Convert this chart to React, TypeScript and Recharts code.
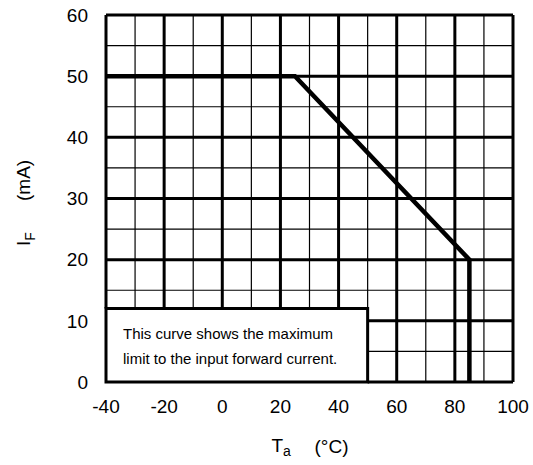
import React from 'react';
import { Label, Line, LineChart, ReferenceArea, ReferenceLine, XAxis, YAxis } from 'recharts';

// Derating curve: forward current vs ambient temperature
const curveTemp = [-40, 25, 85, 85];
const curveCurrent = [50, 50, 20, 0];

const xTicks = [-40, -20, 0, 20, 40, 60, 80, 100];
const yTicks = [0, 10, 20, 30, 40, 50, 60];
const xMinor = [-30, -10, 10, 30, 50, 70, 90];
const yMinor = [5, 15, 25, 35, 45, 55];

// note box extent (data units)
const noteX = [-40, 50];
const noteY = [0, 12];
const noteLines = ['This curve shows the maximum', 'limit to the input forward current.'];

const data = curveTemp.map((t, i) => ({ t, i: curveCurrent[i] }));

const FONT = '"Liberation Sans", Arial, sans-serif';
const tickStyle = { fill: '#000', fontSize: 19, fontFamily: FONT };

// grid lines stop at the note box instead of running through it
const vSegment = (v: number) =>
  v <= noteX[1]
    ? [{ x: v, y: noteY[1] }, { x: v, y: 60 }]
    : [{ x: v, y: 0 }, { x: v, y: 60 }];
const hSegment = (v: number) =>
  v <= noteY[1]
    ? [{ x: noteX[1], y: v }, { x: 100, y: v }]
    : [{ x: -40, y: v }, { x: 100, y: v }];

const NoteText = (props: any) => {
  const { x, y } = props.viewBox;
  return (
    <g>
      {noteLines.map((line, k) => (
        <text key={k} x={x + 17} y={y + 30 + k * 25} fontSize={15} fontFamily={FONT} fill="#000">
          {line}
        </text>
      ))}
    </g>
  );
};

const XTitle = (props: any) => {
  const { x, y, width } = props.viewBox;
  const cx = x + width / 2;
  return (
    <g fontFamily={FONT} fill="#000" fontSize={19}>
      <text x={cx - 38} y={y + 70}>
        T<tspan fontSize={14} dy={4}>a</tspan>
      </text>
      <text x={cx + 5} y={y + 71}>(°C)</text>
    </g>
  );
};

const YTitle = () => {
  const bx = 30;
  return (
    <g fontFamily={FONT} fill="#000" fontSize={19}>
      <text x={bx} y={246} transform={`rotate(-90, ${bx}, 246)`}>
        I<tspan fontSize={14} dy={5}>F</tspan>
      </text>
      <text x={bx} y={201} transform={`rotate(-90, ${bx}, 201)`}>(mA)</text>
    </g>
  );
};

export default function App() {
  return (
    <div style={{ position: 'absolute', left: 0, top: 0, width: 533, height: 465, background: '#fff' }}>
      <LineChart
        width={533}
        height={465}
        data={data}
        margin={{ top: 15, right: 20, bottom: 0, left: 0 }}
        style={{ overflow: 'visible' }}
      >
        <XAxis
          type="number"
          dataKey="t"
          domain={[-40, 100]}
          ticks={xTicks}
          axisLine={false}
          tickLine={false}
          tickSize={0}
          tickMargin={18}
          height={83}
          tick={tickStyle}
          interval={0}
        >
          <Label content={XTitle} />
        </XAxis>
        <YAxis
          type="number"
          domain={[0, 60]}
          ticks={yTicks}
          axisLine={false}
          tickLine={false}
          tickSize={0}
          tickMargin={18}
          width={106}
          tick={tickStyle}
          interval={0}
        >
          <Label content={YTitle} />
        </YAxis>
        <ReferenceArea
          x1={noteX[0]}
          x2={noteX[1]}
          y1={noteY[0]}
          y2={noteY[1]}
          fill="#fff"
          fillOpacity={1}
          stroke="#000"
          strokeWidth={3}
          label={NoteText}
        />
        {xMinor.map((v) => (
          <ReferenceLine key={'xm' + v} segment={vSegment(v)} stroke="#000" strokeWidth={1.2} />
        ))}
        {yMinor.map((v) => (
          <ReferenceLine key={'ym' + v} segment={hSegment(v)} stroke="#000" strokeWidth={1.2} />
        ))}
        {xTicks.map((v) => (
          <ReferenceLine key={'xM' + v} segment={vSegment(v)} stroke="#000" strokeWidth={3} />
        ))}
        {yTicks.map((v) => (
          <ReferenceLine key={'yM' + v} segment={hSegment(v)} stroke="#000" strokeWidth={3} />
        ))}
        <Line
          type="linear"
          dataKey="i"
          stroke="#000"
          strokeWidth={4.5}
          dot={false}
          isAnimationActive={false}
          strokeLinejoin="miter"
        />
      </LineChart>
    </div>
  );
}
